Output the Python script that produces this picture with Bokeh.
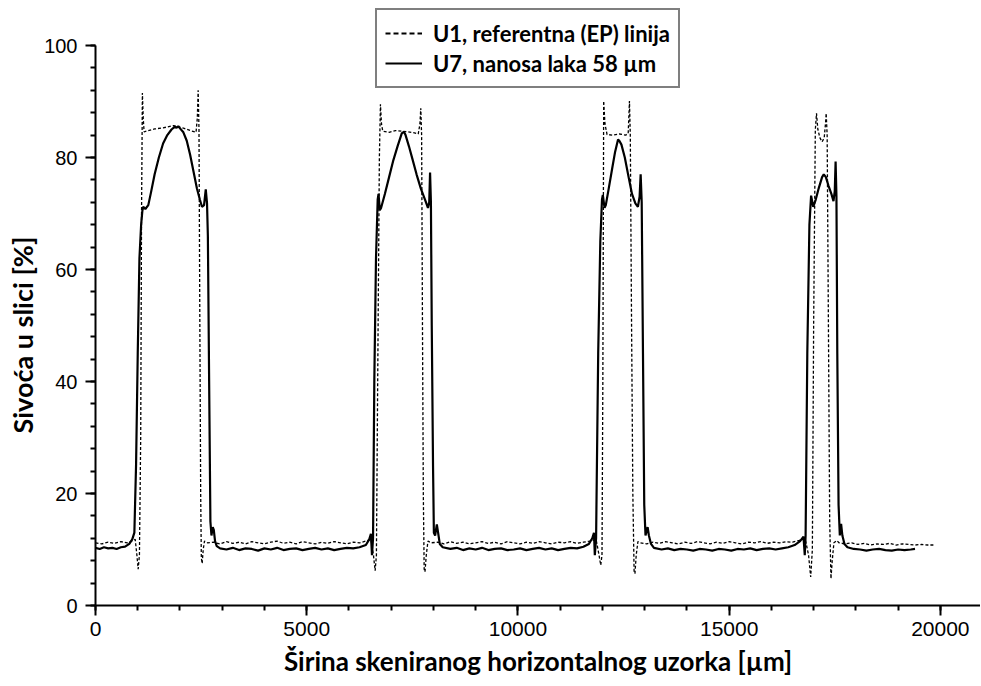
from bokeh.plotting import figure
from bokeh.models import Range1d, SingleIntervalTicker, Legend, LegendItem, Title
from bokeh.embed import file_html
from bokeh.resources import INLINE

# U7 (solid) profile: x [um], grey level [%]
u7_x = [0, 100, 200, 300, 400, 500, 600, 700, 800, 870, 920,
        960, 1000, 1040, 1080, 1110, 1130, 1180, 1250, 1320, 1400, 1500, 1600, 1700, 1800, 1880, 1920, 1960, 2000,
        2080, 2160, 2240, 2320, 2400, 2470, 2520, 2570, 2610, 2640, 2660, 2690, 2720, 2745, 2775, 2800, 2830, 2870, 2950,
        3100, 3250, 3400, 3550, 3700, 3850, 4000, 4150, 4300, 4450, 4600, 4750, 4900, 5050, 5200, 5350, 5500, 5650,
        5800, 5950, 6100, 6250, 6400, 6480, 6520, 6545, 6570,
        6600, 6640, 6680, 6700, 6730, 6760, 6850, 6950, 7050, 7150, 7250, 7300, 7340, 7420, 7500, 7600, 7700, 7800,
        7870, 7900, 7920, 7940, 7960, 7990, 8010, 8040, 8080, 8110, 8150, 8220,
        8400, 8550, 8700, 8850, 9000, 9150, 9300, 9450, 9600, 9750, 9900, 10050, 10200, 10350, 10500, 10650, 10800,
        10950, 11100, 11250, 11400, 11550, 11680, 11760, 11800, 11820, 11850,
        11900, 11950, 11990, 12010, 12050, 12080, 12150, 12230, 12300, 12370, 12400, 12450, 12530, 12620, 12700, 12780,
        12840, 12880, 12905, 12930, 12960, 12990, 13020, 13070, 13100, 13150, 13220,
        13400, 13550, 13700, 13850, 14000, 14150, 14300, 14450, 14600, 14750, 14900, 15050, 15200, 15350, 15500, 15650,
        15800, 15950, 16100, 16250, 16400, 16550, 16680, 16760, 16790, 16810,
        16850, 16900, 16940, 16990, 17050, 17120, 17200, 17240, 17290, 17350, 17420, 17470, 17500, 17520, 17540, 17560,
        17590, 17620, 17650, 17680, 17730, 17800,
        17950, 18100, 18250, 18400, 18550, 18700, 18850, 19000, 19150, 19300, 19400]
u7_y = [10.3, 10.1, 10.4, 10.2, 10.3, 10.1, 10.4, 10.5, 11.0, 11.8, 13.0,
        25, 45, 62, 68, 70.5, 71.2, 70.8, 71.5, 74, 77, 80, 82.5, 84, 85, 85.5, 85.3, 85.6, 85.2,
        84.5, 83, 80.5, 77.5, 74.5, 72.5, 71.2, 71.5, 74.3, 71.8, 66, 40, 15, 12.5, 14.0, 13.5, 11.5, 10.6, 10.2,
        10.0, 10.3, 9.9, 10.2, 10.1, 9.8, 10.2, 10.0, 10.3, 9.9, 10.1, 10.2, 9.9, 10.1, 10.3, 10.0, 10.2, 9.9,
        10.1, 10.3, 10.2, 10.4, 10.8, 11.8, 12.8, 9.0, 12,
        40, 62, 72.5, 73.5, 70.6, 71.0, 73.5, 76.5, 79.5, 82, 84.3, 84.6, 84.0, 82.0, 79.8, 77.0, 74.5, 72.5,
        71.0, 72, 77.3, 72, 50, 25, 13, 12.5, 14.5, 13, 11, 10.4,
        10.1, 10.3, 9.9, 10.2, 10.0, 10.3, 9.9, 10.1, 10.2, 9.9, 10.0, 10.2, 9.9, 10.1, 10.3, 10.0, 10.2,
        9.9, 10.1, 10.3, 10.2, 10.5, 11.0, 12.0, 13.0, 9.0, 12,
        45, 65, 72.5, 73.3, 71.0, 71.5, 74.5, 78, 81, 83.2, 83.0, 82.3, 80, 76.5, 73.5, 71.8,
        71.2, 73, 77, 72, 45, 18, 12.5, 14, 12.5, 11, 10.3,
        10.0, 10.2, 9.9, 10.1, 10.0, 9.8, 10.1, 10.0, 9.8, 10.1, 10.0, 9.8, 10.1, 10.0, 10.2, 9.9,
        10.1, 10.2, 10.0, 10.2, 10.4, 10.8, 11.5, 12.3, 9.0, 12.5,
        45, 68, 73.2, 71.2, 72.5, 74.5, 76.5, 77, 76.5, 75, 73.5, 72.2, 74, 79.3, 73, 45,
        18, 12.5, 14.6, 12.5, 11, 10.4,
        10.1, 10.0, 9.8, 10.0, 10.1, 9.9, 9.8, 10.0, 9.9, 10.0, 10.1]

# U1 (dashed, reference EP line) profile
u1_x = [0, 150, 300, 450, 600, 750, 850, 940, 980, 1010, 1040, 1070, 1090, 1110, 1130, 1150, 1250, 1400, 1600,
        1850, 1950, 2100, 2250, 2380, 2410, 2430, 2450, 2470, 2490, 2505, 2525, 2550, 2580, 2650,
        2800, 2950, 3100, 3250, 3400, 3550, 3700, 3850, 4000, 4150, 4300, 4450, 4600, 4750, 4900, 5050, 5200,
        5350, 5500, 5650, 5800, 5950, 6100, 6250, 6400, 6520, 6580, 6620, 6650, 6680, 6720, 6745, 6770, 6800,
        6950, 7100, 7250, 7400, 7550, 7640, 7680, 7700, 7720, 7740, 7760, 7780, 7800, 7830, 7870, 7950,
        8100, 8250, 8400, 8550, 8700, 8850, 9000, 9150, 9300, 9450, 9600, 9750, 9900, 10050, 10200, 10350,
        10500, 10650, 10800, 10950, 11100, 11250, 11400, 11550, 11700, 11850, 11920, 11960, 11990, 12010, 12030,
        12060, 12110, 12250, 12400, 12550, 12610, 12640, 12660, 12690, 12720, 12750, 12770, 12800, 12840, 12900,
        13050, 13200, 13350, 13500, 13650, 13800, 13950, 14100, 14250, 14400, 14550, 14700, 14850, 15000, 15150,
        15300, 15450, 15600, 15750, 15900, 16050, 16200, 16350, 16500, 16650, 16800, 16880, 16930, 16970, 17000,
        17040, 17068, 17100, 17150, 17200, 17250, 17280, 17297, 17320, 17350, 17380, 17410, 17440, 17480, 17550,
        17600, 17750, 17900, 18050, 18200, 18350, 18500, 18650, 18800, 18950, 19100, 19250, 19400, 19550, 19700,
        19880]
u1_y = [11.2, 11.0, 11.3, 11.1, 11.4, 11.2, 11.5, 11.8, 9, 6.5, 9, 30, 70, 91.5, 87, 84.6, 84.8, 85.1, 85.3,
        85.7, 85.5, 85.2, 84.8, 84.5, 87, 92, 85, 50, 20, 8.5, 7.5, 10, 11.5, 11.2,
        11.3, 11.0, 11.4, 11.1, 11.3, 11.0, 11.4, 11.2, 11.0, 11.3, 11.5, 11.1, 11.3, 11.0, 11.4, 11.2, 11.0,
        11.3, 11.1, 11.4, 11.2, 11.0, 11.3, 11.2, 11.5, 11.8, 9, 6.2, 9, 40, 80, 89.5, 86, 84.7,
        84.5, 84.8, 84.7, 84.6, 84.4, 84.2, 86, 88.8, 84, 50, 20, 6.5, 6.0, 9, 11.5, 11.2,
        11.3, 11.0, 11.4, 11.1, 11.3, 11.0, 11.2, 11.4, 11.1, 11.3, 11.0, 11.4, 11.2, 11.0, 11.3, 11.1,
        11.4, 11.2, 11.0, 11.3, 11.2, 11.4, 11.1, 11.3, 11.5, 11.8, 9, 7.2, 9, 40, 90.1,
        86, 84.1, 84.0, 84.2, 84.0, 84.3, 90.1, 84, 50, 20, 6, 5.7, 9, 11.4, 11.2,
        11.0, 11.3, 11.1, 11.4, 11.2, 11.0, 11.3, 11.1, 11.4, 11.2, 11.0, 11.3, 11.1, 11.4, 11.2,
        11.0, 11.3, 11.2, 11.4, 11.1, 11.3, 11.2, 11.4, 11.3, 11.6, 11.9, 9, 5.1, 10, 50,
        85, 87.9, 85, 83.5, 82.8, 83.5, 86, 87.9, 84, 50, 15, 4.8, 8, 11.2, 11.6,
        11.2, 11.0, 11.2, 10.9, 11.1, 10.8, 11.0, 10.9, 11.1, 10.8, 11.0, 10.9, 10.8, 10.9, 10.8,
        10.8]

legend_labels = ["U1, referentna (EP) linija", "U7, nanosa laka 58 \u00b5m"]
x_title = "\u0160irina skeniranog horizontalnog uzorka [\u00b5m]"
y_title = "Sivo\u0107a u slici [%]"

p = figure(width=980, height=685, output_backend="svg", toolbar_location=None,
           x_range=Range1d(0, 20950), y_range=Range1d(0, 108.04),
           min_border_left=94, min_border_right=0, min_border_top=0, min_border_bottom=80)
p.outline_line_color = None
p.xgrid.visible = False
p.ygrid.visible = False
p.background_fill_color = "white"
p.border_fill_color = "white"

r1 = p.line(u1_x, u1_y, line_color="black", line_width=1.3, line_dash="3 2")
r7 = p.line(u7_x, u7_y, line_color="black", line_width=2.2)
# hidden copies used only for bolder legend samples
s1 = p.line(u1_x, u1_y, line_color="black", line_width=2, line_dash="5 3", visible=False)
s7 = p.line(u7_x, u7_y, line_color="black", line_width=2, visible=False)

for ax in (p.xaxis[0], p.yaxis[0]):
    ax.axis_line_color = "black"
    ax.axis_line_width = 2
    ax.major_tick_line_color = "black"
    ax.major_tick_line_width = 2
    ax.minor_tick_line_color = "black"
    ax.minor_tick_line_width = 2
    ax.major_tick_out = 10
    ax.major_tick_in = 0
    ax.minor_tick_out = 5
    ax.minor_tick_in = 0
    ax.major_label_text_font = "Liberation Sans"
    ax.major_label_text_color = "black"
    ax.axis_label_text_font = "Lato"
    ax.axis_label_text_font_style = "bold"
    ax.axis_label_text_color = "black"

p.xaxis.ticker = SingleIntervalTicker(interval=5000, num_minor_ticks=5)
p.yaxis.ticker = SingleIntervalTicker(interval=20, num_minor_ticks=5)
p.yaxis.bounds = (0, 100)
p.xaxis.major_label_text_font_size = "21px"
p.yaxis.major_label_text_font_size = "20px"
p.xaxis.major_label_standoff = 6
p.yaxis.major_label_standoff = 8
p.xaxis.axis_label = x_title
p.xaxis.axis_label_text_font_size = "26px"
p.xaxis.axis_label_standoff = 6

ytitle = Title(text=y_title, align="left", offset=172, text_font="Lato", text_font_style="bold",
               text_font_size="27px", text_color="black", standoff=6)
p.add_layout(ytitle, "left")

legend = Legend(items=[LegendItem(label=legend_labels[0], renderers=[s1]),
                       LegendItem(label=legend_labels[1], renderers=[s7])],
                location=(280, 517), orientation="vertical", click_policy="none")
legend.margin = 0
legend.padding = 8
legend.spacing = 0
legend.label_height = 30
legend.glyph_height = 30
legend.glyph_width = 37
legend.label_standoff = 11
legend.label_text_font = "Lato"
legend.label_text_font_style = "bold"
legend.label_text_font_size = "22px"
legend.label_text_color = "black"
legend.border_line_color = "black"
legend.border_line_width = 2
legend.background_fill_alpha = 1.0
p.add_layout(legend, "center")

html = file_html(p, INLINE)
open("out.html", "w").write(html)
